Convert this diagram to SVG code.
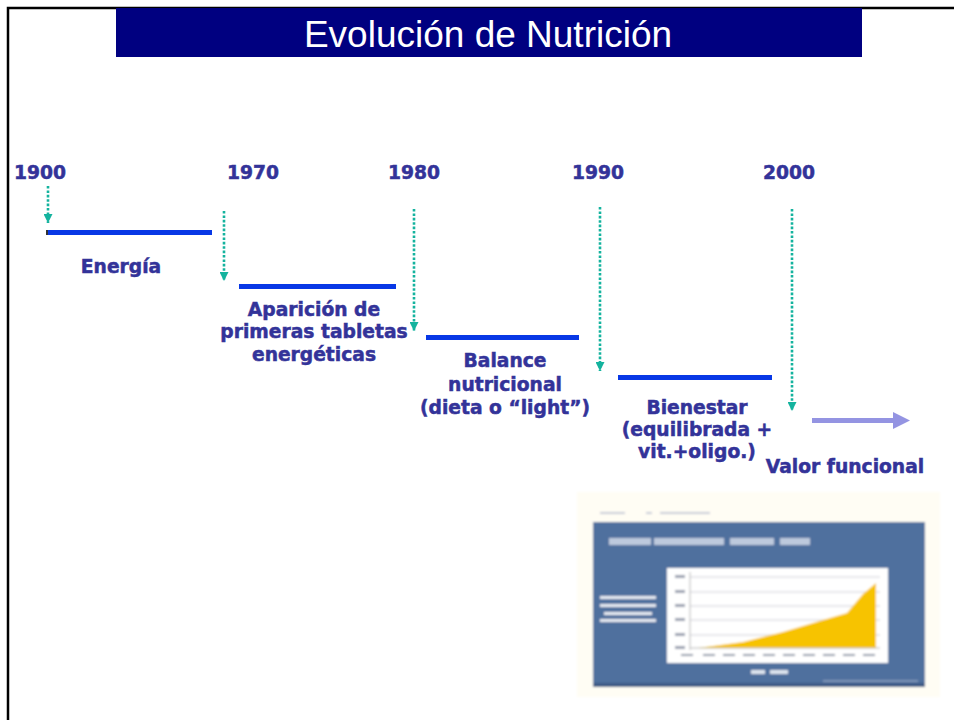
<svg xmlns="http://www.w3.org/2000/svg" width="954" height="720" viewBox="0 0 954 720">
<style>
.yr{font-family:"DejaVu Sans","Liberation Sans",sans-serif;font-weight:bold;font-size:18.7px;fill:#333399;stroke:#333399;stroke-width:0.5;text-anchor:middle}
.lb{font-family:"DejaVu Sans","Liberation Sans",sans-serif;font-weight:bold;font-size:18.7px;fill:#333399;stroke:#333399;stroke-width:0.5;text-anchor:middle}
.bar{fill:#0838E6}
.dot{stroke:#14B39E;stroke-width:2.6;stroke-dasharray:2.6 1.8;fill:none}
.ttl{font-family:"Liberation Sans",Arial,sans-serif;font-size:37px;fill:#ffffff;text-anchor:middle}
</style>
<defs>
<marker id="tealHead" markerUnits="userSpaceOnUse" markerWidth="9" markerHeight="9" viewBox="0 0 9 9" refX="9" refY="4.5" orient="auto">
<path d="M0,0 L9,4.5 L0,9 z" fill="#14B39E"/>
</marker>
<filter id="blur" x="-5%" y="-5%" width="110%" height="110%"><feGaussianBlur stdDeviation="0.9"/></filter>
</defs>
<rect x="0" y="0" width="954" height="720" fill="#ffffff"/>
<!-- frame -->
<path d="M8,720 V8 H954" fill="none" stroke="#000000" stroke-width="2.5"/>
<!-- title -->
<g id="title">
<rect x="116" y="8" width="746" height="49" fill="#000080"/>
<text class="ttl" x="488" y="47">Evolución de Nutrición</text>
</g>
<!-- year labels -->
<g id="y1900"><text class="yr" x="40" y="179">1900</text></g>
<g id="y1970"><text class="yr" x="253" y="179">1970</text></g>
<g id="y1980"><text class="yr" x="414" y="179">1980</text></g>
<g id="y1990"><text class="yr" x="598" y="179">1990</text></g>
<g id="y2000"><text class="yr" x="789" y="179">2000</text></g>
<!-- stages -->
<g id="energia">
<rect x="46" y="230" width="2" height="5" fill="#333333"/>
<rect class="bar" x="48" y="230" width="164" height="5"/>
<text class="lb" x="121" y="273">Energía</text>
</g>
<g id="tabletas">
<rect class="bar" x="239" y="284" width="157" height="5"/>
<text class="lb" x="314" y="316">Aparición de</text>
<text class="lb" x="314" y="338">primeras tabletas</text>
<text class="lb" x="314" y="361">energéticas</text>
</g>
<g id="balance">
<rect class="bar" x="426" y="335" width="153" height="5"/>
<text class="lb" x="505" y="367">Balance</text>
<text class="lb" x="505" y="391">nutricional</text>
<text class="lb" x="505" y="414">(dieta o “light”)</text>
</g>
<g id="bienestar">
<rect class="bar" x="618" y="375" width="154" height="5"/>
<text class="lb" x="697" y="414">Bienestar</text>
<text class="lb" x="697" y="436">(equilibrada +</text>
<text class="lb" x="697" y="458">vit.+oligo.)</text>
</g>
<g id="valor">
<text class="lb" x="845" y="473">Valor funcional</text>
</g>
<!-- connectors -->
<g id="connectors">
<line class="dot" x1="48" y1="186" x2="48" y2="223" marker-end="url(#tealHead)"/>
<line class="dot" x1="224" y1="211" x2="224" y2="281" marker-end="url(#tealHead)"/>
<line class="dot" x1="414" y1="209" x2="414" y2="331" marker-end="url(#tealHead)"/>
<line class="dot" x1="600" y1="207" x2="600" y2="371" marker-end="url(#tealHead)"/>
<line class="dot" x1="792" y1="209" x2="792" y2="411" marker-end="url(#tealHead)"/>
<line x1="812" y1="420.5" x2="895" y2="420.5" stroke="#9494E2" stroke-width="5"/>
<polygon points="893,412 910,420.5 893,429" fill="#9494E2"/>
</g>
<!-- chart picture -->
<g id="chart" filter="url(#blur)">
<rect x="577" y="492" width="363" height="205" fill="#FFFDF4"/>
<rect x="600" y="512" width="25" height="2" fill="#C8CCD8"/>
<rect x="646" y="512" width="6" height="2" fill="#C8CCD8"/>
<rect x="660" y="512" width="50" height="2" fill="#C8CCD8"/>
<rect x="593" y="522" width="332" height="165" fill="#50709E"/>
<rect x="593" y="683" width="332" height="4" fill="#3E5A86"/>
<rect x="609" y="538" width="42" height="7" fill="#D8E0EC" opacity="0.8"/>
<rect x="654" y="538" width="70" height="7" fill="#D8E0EC" opacity="0.8"/>
<rect x="730" y="538" width="44" height="7" fill="#D8E0EC" opacity="0.8"/>
<rect x="780" y="538" width="30" height="7" fill="#D8E0EC" opacity="0.8"/>
<rect x="600" y="596" width="56" height="3" fill="#E6EAF2"/>
<rect x="600" y="604" width="56" height="3" fill="#E6EAF2"/>
<rect x="604" y="612" width="48" height="3" fill="#E6EAF2"/>
<rect x="600" y="619" width="56" height="3" fill="#E6EAF2"/>
<rect x="667" y="568" width="221" height="95" fill="#FFFFFF"/>
<g stroke="#D0D0D8" stroke-width="1">
<line x1="690" y1="577" x2="880" y2="577"/>
<line x1="690" y1="592" x2="880" y2="592"/>
<line x1="690" y1="606" x2="880" y2="606"/>
<line x1="690" y1="620" x2="880" y2="620"/>
<line x1="690" y1="635" x2="880" y2="635"/>
</g>
<polygon points="698,648 743,642 783,632 823,620 847,613 863,594 876,583 876,648" fill="#F7C300"/>
<line x1="690" y1="648" x2="880" y2="648" stroke="#B8B8B8" stroke-width="1"/>
<line x1="690" y1="572" x2="690" y2="650" stroke="#B8B8B8" stroke-width="1"/>
<g fill="#9AA0B0">
<rect x="675" y="575" width="10" height="3"/>
<rect x="675" y="590" width="10" height="3"/>
<rect x="675" y="604" width="10" height="3"/>
<rect x="675" y="618" width="10" height="3"/>
<rect x="675" y="633" width="10" height="3"/>
<rect x="675" y="646" width="10" height="3"/>
</g>
<g fill="#8E96A8">
<rect x="681" y="654" width="12" height="2"/>
<rect x="703" y="654" width="12" height="2"/>
<rect x="723" y="654" width="12" height="2"/>
<rect x="743" y="654" width="12" height="2"/>
<rect x="763" y="654" width="12" height="2"/>
<rect x="783" y="654" width="12" height="2"/>
<rect x="803" y="654" width="12" height="2"/>
<rect x="823" y="654" width="12" height="2"/>
<rect x="843" y="654" width="12" height="2"/>
<rect x="863" y="654" width="12" height="2"/>
</g>
<rect x="751" y="670" width="14" height="4" fill="#DDE4EE"/>
<rect x="770" y="670" width="18" height="4" fill="#DDE4EE"/>
<rect x="823" y="680" width="95" height="2" fill="#7F95B8"/>
</g>
</svg>
